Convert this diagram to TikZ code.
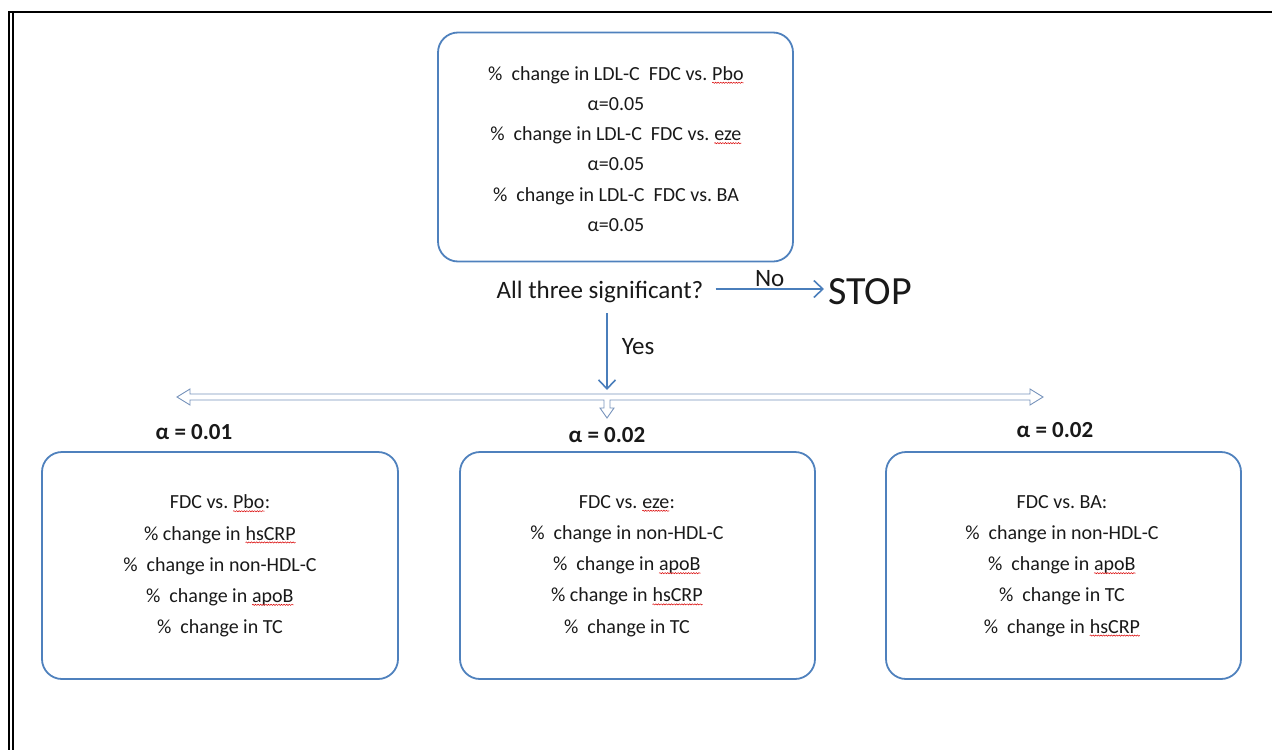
\documentclass[tikz,border=0pt]{standalone}
\usepackage{fontspec}
\setmainfont{Carlito}
\usetikzlibrary{arrows.meta,decorations.pathmorphing}
\definecolor{boxblue}{RGB}{79,129,189}
\definecolor{arrblue}{RGB}{74,126,187}
\definecolor{dablue}{RGB}{120,148,188}
\definecolor{txt}{RGB}{25,25,25}
\newcommand\sq[1]{\tikz[baseline=(w.base)]{\node[draw=none,fill=none,inner sep=0pt,outer sep=0pt,anchor=base] (w) {#1};\draw[red!85!black,line width=0.5pt,decorate,decoration={snake,amplitude=0.6pt,segment length=2.6pt}] ([yshift=-2.4pt]w.base west) -- ([yshift=-2.4pt]w.base east);}}
\begin{document}
\begin{tikzpicture}[x=1pt,y=-1pt,
  box/.style={draw=boxblue,line width=1.8pt,rounded corners=20pt,inner sep=0pt},
  topbody/.style={font=\fontsize{20}{30.2}\selectfont,align=center,text=txt,inner sep=0pt},
  body/.style={font=\fontsize{20}{31.2}\selectfont,align=center,text=txt,inner sep=0pt},
  lbl/.style={font=\fontsize{25}{30}\selectfont,text=txt,inner sep=0pt},
  alab/.style={font=\bfseries\fontsize{23}{28}\selectfont,text=txt,inner sep=0pt},
  arr/.style={draw=arrblue,line width=1.6pt,-{Straight Barb[length=9pt,width=17pt,line width=1.6pt]}},
  frame/.style={draw=black}]
\useasboundingbox (0,0) rectangle (1272,750);
% frame
\draw[frame,line width=2.6pt] (8.2,12) -- (1272,12);
\draw[frame,line width=1.8pt] (9.3,11) -- (9.3,750);
\draw[frame,line width=1.8pt] (12.9,13) -- (12.9,750);
% top box
\node[box,minimum width=355pt,minimum height=229pt] (topbox) at (615.5,147) {};
\node[topbody] (toptext) at (616,149) {\%~ change in LDL-C~ FDC vs.\ \sq{Pbo}\\ α=0.05\\ \%~ change in LDL-C~ FDC vs.\ \sq{eze}\\ α=0.05\\ \%~ change in LDL-C~ FDC vs.\ BA\\ α=0.05};
% question
\node[lbl] (q) at (600,292) {All three significant?};
\node[font=\fontsize{40}{44}\selectfont,text=txt,inner sep=0pt] (stop) at (870,292) {STOP};
\draw[arr] ([xshift=12pt,yshift=3pt]q.east) -- node[lbl,above=2pt] (no) {No} ([xshift=-4pt,yshift=3pt]stop.west);
% yes arrow and distributor
\coordinate (da) at (607,390);
\draw[arr] (607,313) -- node[lbl,right=14pt,yshift=5pt] (yes) {Yes} (da);
\draw[draw=dablue,line width=0.9pt,fill=white,line join=miter]
  (177,397) -- (190,389) -- (190,394) -- (1030,394) -- (1030,389) -- (1043,397)
  -- (1030,405) -- (1030,400) -- (610,400) -- (610,408) -- (614,408) -- (607,418)
  -- (600,408) -- (604,408) -- (604,400) -- (190,400) -- (190,405) -- cycle;
% alpha labels
\node[alab] (a1) at (194,432) {α = 0.01};
\node[alab] (a2) at (607,435) {α = 0.02};
\node[alab] (a3) at (1055,430) {α = 0.02};
% bottom boxes
\node[box,minimum width=356pt,minimum height=227pt] (b1) at (220,565.5) {};
\node[box,minimum width=355pt,minimum height=227pt] (b2) at (637.5,565.5) {};
\node[box,minimum width=355pt,minimum height=227pt] (b3) at (1063.5,565.5) {};
\node[body] (t1) at (220,566) {FDC vs.\ \sq{Pbo}:\\ \% change in \sq{hsCRP}\\ \%~ change in non-HDL-C\\ \%~ change in \sq{apoB}\\ \%~ change in TC};
\node[body] (t2) at (627,566) {FDC vs.\ \sq{eze}:\\ \%~ change in non-HDL-C\\ \%~ change in \sq{apoB}\\ \% change in \sq{hsCRP}\\ \%~ change in TC};
\node[body] (t3) at (1062,566) {FDC vs.\ BA:\\ \%~ change in non-HDL-C\\ \%~ change in \sq{apoB}\\ \%~ change in TC\\ \%~ change in \sq{hsCRP}};
\end{tikzpicture}
\end{document}
